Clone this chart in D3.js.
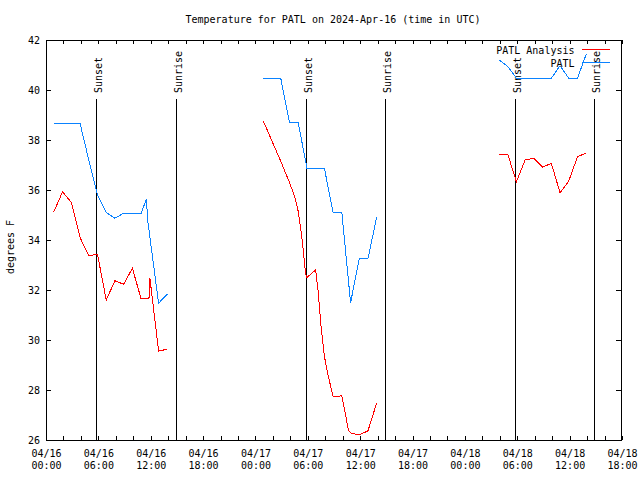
<!DOCTYPE html>
<html><head><meta charset="utf-8">
<script src="https://cdn.jsdelivr.net/npm/d3@7"></script>
<style>
body{margin:0;background:#fff}
svg text{font-family:"DejaVu Sans Mono",monospace;font-size:10px;fill:#000}
</style>
</head><body>
<svg id="chart" width="640" height="480"></svg>
<script>
// ---------------- data ----------------
const titleText = "Temperature for PATL on 2024-Apr-16 (time in UTC)";
const yLabel = "degrees F";
const seriesNames = ["PATL Analysis", "PATL"];
const seriesColors = ["#ff0000", "#0a82ff"];
const xDomain = ["2024-04-16T00:00", "2024-04-18T18:00"];
const yDomain = [26, 42];
const yTicks = [26, 28, 30, 32, 34, 36, 38, 40, 42];

const analysisTimes = [
  "2024-04-16T00:54","2024-04-16T01:54","2024-04-16T02:54","2024-04-16T03:54","2024-04-16T04:54",
  "2024-04-16T05:54","2024-04-16T06:54","2024-04-16T07:54","2024-04-16T08:54","2024-04-16T09:54",
  "2024-04-16T10:54","2024-04-16T11:48","2024-04-16T11:54","2024-04-16T12:54","2024-04-16T13:54",
  "2024-04-16T18:00",
  "2024-04-17T00:54","2024-04-17T01:54","2024-04-17T02:54","2024-04-17T03:54","2024-04-17T04:30",
  "2024-04-17T04:54","2024-04-17T05:15","2024-04-17T05:30","2024-04-17T05:45","2024-04-17T05:54",
  "2024-04-17T06:54","2024-04-17T07:10","2024-04-17T07:30","2024-04-17T07:54","2024-04-17T08:15",
  "2024-04-17T08:54","2024-04-17T09:54","2024-04-17T10:40","2024-04-17T10:54","2024-04-17T11:54",
  "2024-04-17T12:54","2024-04-17T13:54",
  "2024-04-17T18:00",
  "2024-04-18T03:54","2024-04-18T04:54","2024-04-18T05:54","2024-04-18T06:54","2024-04-18T07:54",
  "2024-04-18T08:54","2024-04-18T09:54","2024-04-18T10:54","2024-04-18T11:54","2024-04-18T12:54",
  "2024-04-18T13:54"
];
const analysisTemps = [
  35.13, 35.93, 35.5, 34.1, 33.37,
  33.43, 31.6, 32.37, 32.23, 32.87,
  31.64, 31.67, 32.49, 29.56, 29.63,
  null,
  38.76, 37.95, 37.15, 36.3, 35.73,
  35.15, 34.3, 33.5, 32.65, 32.5,
  32.8, 32.0, 30.6, 29.35, 28.7,
  27.73, 27.77, 26.38, 26.28, 26.2,
  26.37, 27.49,
  null,
  37.44, 37.44, 36.33, 37.2, 37.27,
  36.91, 37.07, 35.89, 36.36, 37.33,
  37.48
];

const obsTimes = [
  "2024-04-16T00:54","2024-04-16T01:54","2024-04-16T02:54","2024-04-16T03:54","2024-04-16T04:54",
  "2024-04-16T05:54","2024-04-16T06:54","2024-04-16T07:54","2024-04-16T08:54","2024-04-16T09:54",
  "2024-04-16T10:54","2024-04-16T11:30","2024-04-16T11:40","2024-04-16T12:54","2024-04-16T13:54",
  "2024-04-16T18:00",
  "2024-04-17T00:54","2024-04-17T01:54","2024-04-17T02:54","2024-04-17T03:54","2024-04-17T04:54",
  "2024-04-17T05:54","2024-04-17T06:54","2024-04-17T07:54","2024-04-17T08:54","2024-04-17T09:54",
  "2024-04-17T10:54","2024-04-17T11:54","2024-04-17T12:54","2024-04-17T13:54",
  "2024-04-17T18:00",
  "2024-04-18T03:54","2024-04-18T04:54","2024-04-18T05:54","2024-04-18T06:54","2024-04-18T07:54",
  "2024-04-18T08:54","2024-04-18T09:54","2024-04-18T10:54","2024-04-18T11:54","2024-04-18T12:54",
  "2024-04-18T13:54"
];
const obsTemps = [
  38.67, 38.67, 38.67, 38.67, 37.2,
  35.8, 35.1, 34.87, 35.07, 35.07,
  35.07, 35.63, 34.75, 31.47, 31.84,
  null,
  40.47, 40.47, 40.47, 38.69, 38.69,
  36.87, 36.87, 36.87, 35.09, 35.09,
  31.49, 33.27, 33.27, 34.93,
  null,
  41.2, 40.95, 40.47, 40.47, 40.47,
  40.47, 40.47, 40.97, 40.47, 40.47,
  41.43
];

const sunTimes = ["2024-04-16T05:47","2024-04-16T14:56","2024-04-17T05:50","2024-04-17T14:54","2024-04-18T05:48","2024-04-18T14:51"];
const sunLabels = ["Sunset","Sunrise","Sunset","Sunrise","Sunset","Sunrise"];

// ---------------- layout ----------------
const L = 46, R = 622, T = 40, B = 440;
const parse = d3.utcParse("%Y-%m-%dT%H:%M");
const svg = d3.select("#chart");

const x = d3.scaleUtc().domain(xDomain.map(parse)).range([L, R]);
const y = d3.scaleLinear().domain(yDomain).range([B, T]);

// sunrise/sunset markers
const sun = svg.append("g");
sunTimes.forEach((t, i) => {
  const px = Math.floor(x(parse(t))) + 0.5;
  sun.append("line").attr("x1", px).attr("x2", px).attr("y1", 99).attr("y2", B)
    .attr("stroke", "#000").attr("stroke-width", 1).attr("shape-rendering", "crispEdges");
  sun.append("text").attr("transform", `translate(${px + 5},93) rotate(-90)`)
    .attr("text-anchor", "start").text(sunLabels[i]);
});

// axes
const tickTimes = d3.utcHour.every(2).range(parse(xDomain[0]), d3.utcHour.offset(parse(xDomain[1]), 1));
const fmtD = d3.utcFormat("%m/%d"), fmtH = d3.utcFormat("%H:%M");

const xb = svg.append("g").attr("transform", `translate(0,${B})`)
  .call(d3.axisBottom(x).tickValues(tickTimes).tickSize(-4).tickPadding(7).tickFormat(() => ""));
const xt = svg.append("g").attr("transform", `translate(0,${T})`)
  .call(d3.axisTop(x).tickValues(tickTimes).tickSize(-4).tickFormat(() => ""));
const yl = svg.append("g").attr("transform", `translate(${L},0)`)
  .call(d3.axisLeft(y).tickValues(yTicks).tickSize(-5).tickPadding(6));
const yr = svg.append("g").attr("transform", `translate(${R - 1},0)`)
  .call(d3.axisRight(y).tickValues(yTicks).tickSize(-5).tickFormat(() => ""));
[xb, xt, yl, yr].forEach(g => {
  g.select(".domain").remove();
  g.selectAll("line").attr("stroke", "#000").attr("shape-rendering", "crispEdges");
  g.selectAll("text").attr("font-family", null).attr("font-size", null);
  g.attr("font-family", null).attr("font-size", null);
});
yl.selectAll("text").attr("fill", "#000");

// two-line x labels every 6 hours
const labelTimes = d3.utcHour.every(6).range(parse(xDomain[0]), d3.utcHour.offset(parse(xDomain[1]), 1));
const xlab = svg.append("g");
labelTimes.forEach(t => {
  const tx = xlab.append("text").attr("text-anchor", "middle").attr("x", x(t) + 0.5);
  tx.append("tspan").attr("x", x(t) + 0.5).attr("y", 457).text(fmtD(t));
  tx.append("tspan").attr("x", x(t) + 0.5).attr("y", 469).text(fmtH(t));
});

// border
svg.append("rect").attr("x", L + 0.5).attr("y", T + 0.5).attr("width", R - 1 - L).attr("height", B - T)
  .attr("fill", "none").attr("stroke", "#000").attr("shape-rendering", "crispEdges");

// series lines
function series(times, temps, color) {
  const pts = times.map((t, i) => ({ t: parse(t), v: temps[i] }));
  const line = d3.line().defined(d => d.v != null).x(d => x(d.t)).y(d => y(d.v));
  svg.append("path").datum(pts).attr("d", line).attr("fill", "none")
    .attr("stroke", color).attr("stroke-width", 1).attr("shape-rendering", "crispEdges");
}
series(analysisTimes, analysisTemps, seriesColors[0]);
series(obsTimes, obsTemps, seriesColors[1]);

// legend
const leg = svg.append("g");
[50, 63].forEach((ly, i) => {
  leg.append("text").attr("x", 574.5).attr("y", ly + 4).attr("text-anchor", "end").text(seriesNames[i]);
  leg.append("line").attr("x1", 582).attr("x2", 610).attr("y1", ly - 0.5).attr("y2", ly - 0.5)
    .attr("stroke", seriesColors[i]).attr("shape-rendering", "crispEdges");
});

// title & y label
svg.append("text").attr("x", 333).attr("y", 23).attr("text-anchor", "middle").text(titleText);
svg.append("text").attr("transform", "translate(14,247) rotate(-90)").attr("text-anchor", "middle").text(yLabel);
</script>
</body></html>
